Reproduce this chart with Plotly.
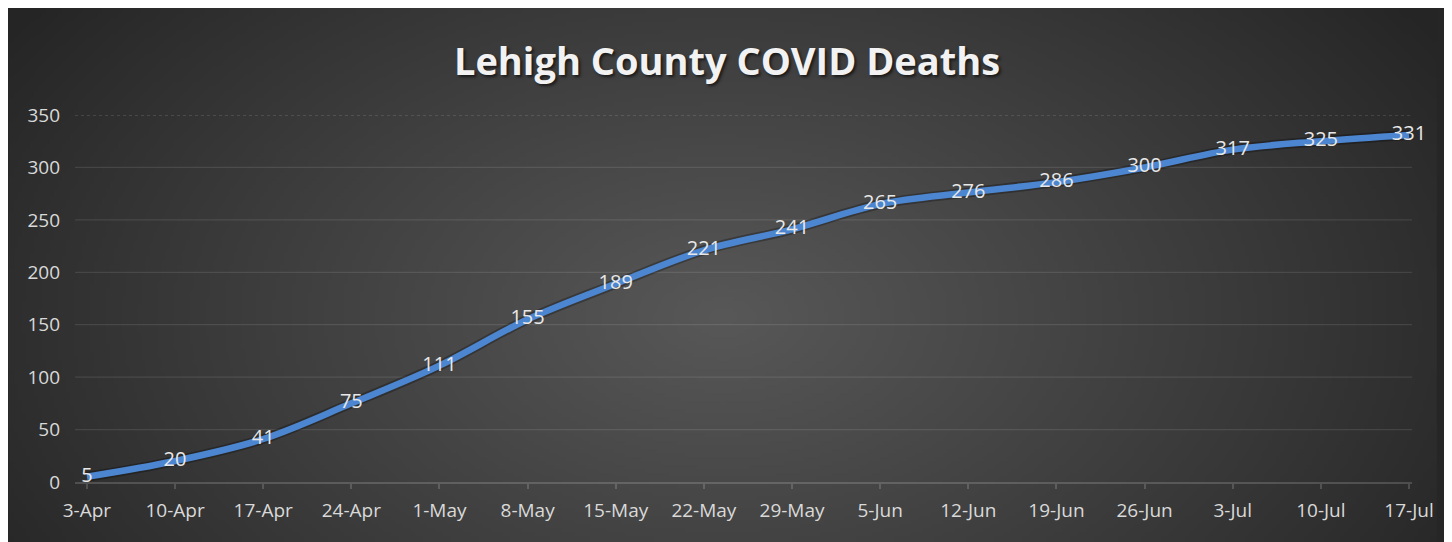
import base64
import struct
import zlib

import numpy as np
import plotly.graph_objects as go

# ---------------- data ----------------
dates = ["3-Apr", "10-Apr", "17-Apr", "24-Apr", "1-May", "8-May", "15-May", "22-May",
         "29-May", "5-Jun", "12-Jun", "19-Jun", "26-Jun", "3-Jul", "10-Jul", "17-Jul"]
deaths = [5, 20, 41, 75, 111, 155, 189, 221, 241, 265, 276, 286, 300, 317, 325, 331]
y_ticks = [0, 50, 100, 150, 200, 250, 300, 350]
title_text = "Lehigh County COVID Deaths"

# ---------------- figure geometry (pixels, figure coords; page adds 8px body margin) ----------------
OFF = 8
W, H = 1438, 534
L, R, T, B = 75 - OFF, 1421 - OFF, 115 - OFF, 482 - OFF   # plot area edges
PW, PH = R - L, B - T


def px_x(p):
    return (p - L) / PW


def px_y(q):
    return (B - q) / PH


# ---------------- radial gradient background (PNG) ----------------
def make_png(gray):
    h, w = gray.shape
    raw = b"".join(b"\x00" + gray[i].astype(np.uint8).tobytes() for i in range(h))

    def chunk(tag, data):
        c = struct.pack(">I", len(data)) + tag + data
        return c + struct.pack(">I", zlib.crc32(tag + data) & 0xFFFFFFFF)

    return (b"\x89PNG\r\n\x1a\n"
            + chunk(b"IHDR", struct.pack(">IIBBBBB", w, h, 8, 0, 0, 0, 0))
            + chunk(b"IDAT", zlib.compress(raw, 9))
            + chunk(b"IEND", b""))


gw, gh = 360, 134
gx, gy = np.meshgrid(np.linspace(0, 1, gw), np.linspace(0, 1, gh))
r = np.sqrt(((gx - 0.5) / 0.6) ** 2 + ((gy - 0.58) / 1.0) ** 2)
f = np.clip(1 - r, 0, 1) ** 0.95
gray = 0x25 + (0x58 - 0x25) * f
bg_uri = "data:image/png;base64," + base64.b64encode(make_png(gray)).decode()

fig = go.Figure()

# soft shadow under the line
fig.add_trace(go.Scatter(
    x=dates, y=deaths, mode="lines",
    line=dict(color="rgba(0,0,0,0.28)", width=10, shape="spline", smoothing=1.0),
    hoverinfo="skip", showlegend=False,
))
fig.add_trace(go.Scatter(
    x=dates, y=deaths, mode="lines+text",
    line=dict(color="#4c86d0", width=6.5, shape="spline", smoothing=1.0),
    text=[str(v) for v in deaths], textposition="middle center",
    textfont=dict(family="Open Sans", size=20, color="#e8e8e8"),
    cliponaxis=False,
    hoverinfo="skip", showlegend=False,
))

shapes = []
for v in y_ticks[1:]:
    shapes.append(dict(
        type="line", xref="paper", yref="y", x0=0, x1=1, y0=v, y1=v,
        line=dict(color="rgba(255,255,255,0.10)" if v < 350 else "rgba(255,255,255,0.16)",
                  width=1.3, dash="solid" if v < 350 else "dot"),
        layer="below",
    ))

fig.update_layout(
    width=W, height=H,
    margin=dict(l=L, r=W - R, t=T, b=H - B, pad=0),
    paper_bgcolor="#262626",
    plot_bgcolor="rgba(0,0,0,0)",
    images=[dict(
        source=bg_uri, xref="paper", yref="paper",
        x=px_x(0), y=px_y(0), sizex=W / PW, sizey=H / PH,
        xanchor="left", yanchor="top", sizing="stretch", layer="below",
    )],
    shapes=shapes,
    title=dict(
        text=title_text, x=0.5, xref="container", xanchor="center",
        y=1 - (62 - OFF) / H, yref="container", yanchor="middle",
        font=dict(family="Open Sans", size=38, color="#f2f2f2", weight="bold",
                  shadow="2px 2px 3px rgba(0,0,0,0.6)"),
    ),
    xaxis=dict(
        type="category", range=[-0.135, 15.034],
        showgrid=False, zeroline=False,
        showline=True, linecolor="rgba(255,255,255,0.16)", linewidth=1.5,
        ticks="outside", ticklen=5, tickcolor="rgba(255,255,255,0.16)", tickwidth=1.5,
        tickfont=dict(family="Open Sans", size=19, color="#d9d9d9"),
        ticklabelstandoff=5,
    ),
    yaxis=dict(
        range=[0, 350], tickvals=y_ticks, ticktext=[str(v) for v in y_ticks],
        showgrid=False, zeroline=False, showline=False, ticks="",
        tickfont=dict(family="Open Sans", size=19, color="#d9d9d9"),
        ticklabelstandoff=14,
    ),
)

fig.write_html("out.html")
